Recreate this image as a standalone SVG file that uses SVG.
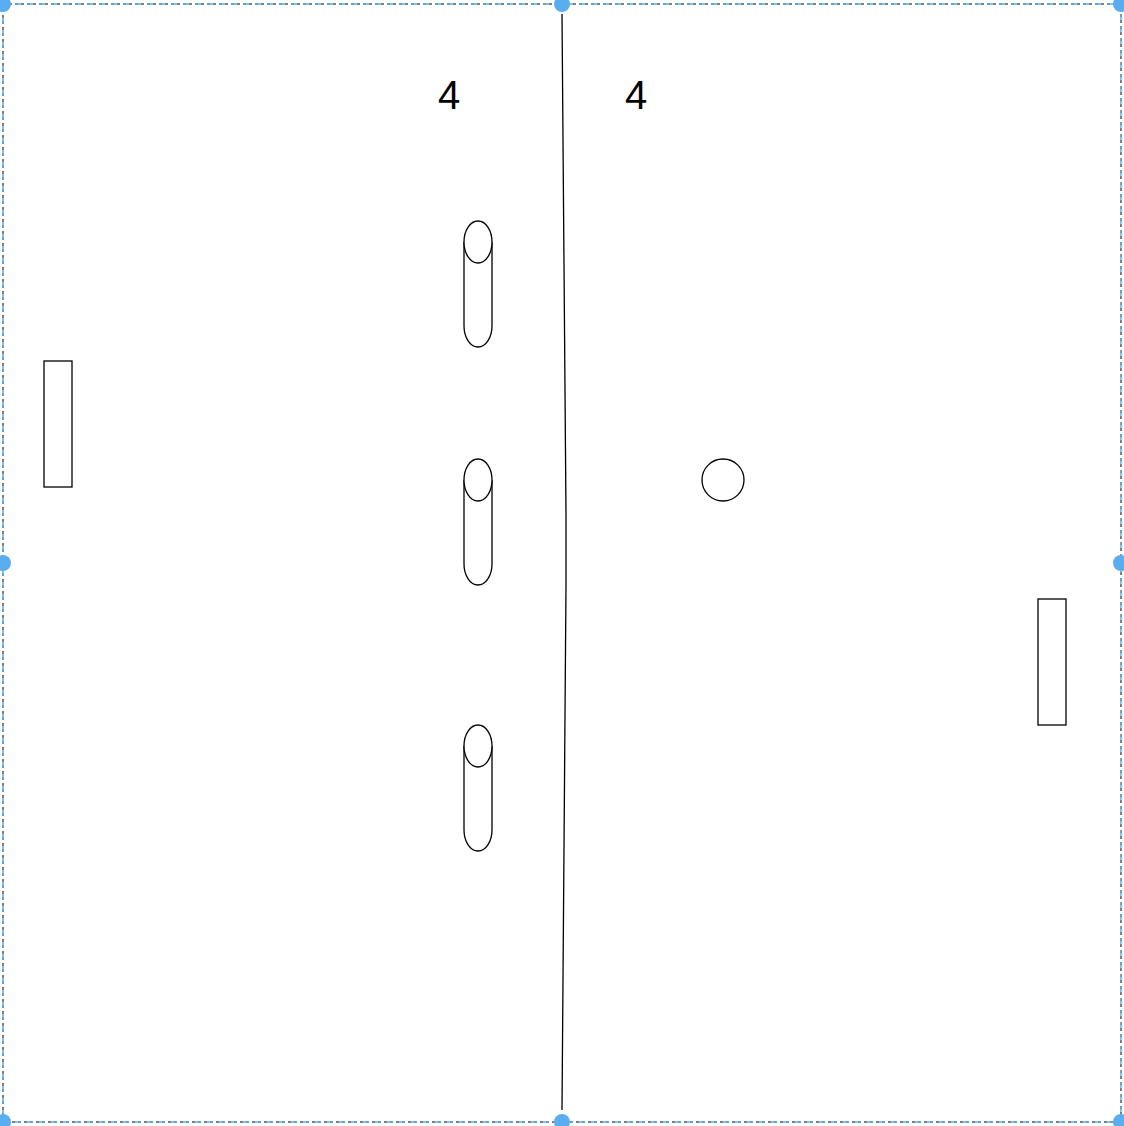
<svg xmlns="http://www.w3.org/2000/svg" width="1124" height="1126" viewBox="0 0 1124 1126">
<style>
.s{fill:#fff;stroke:#000;stroke-width:1.3}
.t{font-family:"Liberation Sans",Arial,sans-serif;font-size:40px;fill:#000;text-anchor:middle}
.h{fill:#5aaef0}
</style>
<rect width="1124" height="1126" fill="#fff"/>
<g id="selection">
<rect x="3" y="4" width="1118" height="1118" fill="none" stroke="#000" stroke-width="1" stroke-dasharray="3 3"/>
<rect x="3" y="4" width="1118" height="1118" fill="none" stroke="#5aaef0" stroke-width="1.5" stroke-dasharray="6 6"/>
</g>
<g id="connectors">
<polyline points="562,14 566,515 566,585 562,1110" fill="none" stroke="#000" stroke-width="1.3"/>
</g>
<g id="label-left"><text class="t" x="449" y="109">4</text></g>
<g id="label-right"><text class="t" x="636" y="109">4</text></g>
<g id="cyl1"><path class="s" d="M464,242 V326 A14,21 0 0 0 492,326 V242"/><ellipse class="s" cx="478" cy="242" rx="14" ry="21"/></g>
<g id="cyl2"><path class="s" d="M464,480 V564 A14,21 0 0 0 492,564 V480"/><ellipse class="s" cx="478" cy="480" rx="14" ry="21"/></g>
<g id="cyl3"><path class="s" d="M464,746 V830 A14,21 0 0 0 492,830 V746"/><ellipse class="s" cx="478" cy="746" rx="14" ry="21"/></g>
<g id="rect-left"><rect class="s" x="44" y="361" width="28" height="126"/></g>
<g id="rect-right"><rect class="s" x="1038" y="599" width="28" height="126"/></g>
<g id="ball"><circle class="s" cx="723" cy="480" r="21"/></g>
<g id="handles">
<circle class="h" cx="3" cy="4" r="8"/><circle class="h" cx="562" cy="4" r="8"/><circle class="h" cx="1121" cy="4" r="8"/>
<circle class="h" cx="3" cy="563" r="8"/><circle class="h" cx="1121" cy="563" r="8"/>
<circle class="h" cx="3" cy="1122" r="8"/><circle class="h" cx="562" cy="1122" r="8"/><circle class="h" cx="1121" cy="1122" r="8"/>
</g>
</svg>
